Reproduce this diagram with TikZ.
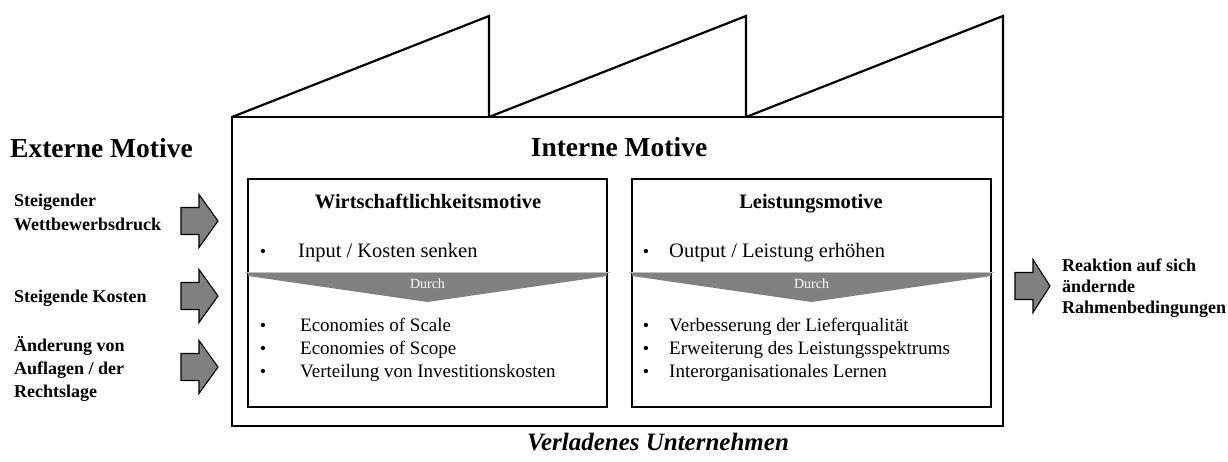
\documentclass[tikz,border=0pt]{standalone}
\usepackage{fontspec}
\setmainfont{Liberation Serif}
\definecolor{arrowgray}{RGB}{128,128,128}
\definecolor{bandgray}{RGB}{128,128,128}
\definecolor{seamgray}{RGB}{190,190,190}
\newcommand{\fsz}[1]{\fontsize{#1}{#1}\selectfont}
% block arrow: shaft start, head start, tip, centre line
\newcommand{\blockarrow}[4]{%
  \draw[blockarrow] (#1,#4-13.5) -- (#2,#4-13.5) -- (#2,#4-26.5) -- (#3,#4)
    -- (#2,#4+26.5) -- (#2,#4+13.5) -- (#1,#4+13.5) -- cycle;}
% grey "Durch" band: left edge, right edge, node name
\newcommand{\durchband}[3]{%
  \fill[bandgray] (#1,272) -- (#2,272) -- (#2,276) -- ({(#1+#2)/2},302) -- (#1,276) -- cycle;
  \draw[seamgray,line width=0.8pt] (#1-3,272) -- (#2+3,272);
  \node[durch] (#3) at ({(#1+#2)/2},288) {Durch};}
\begin{document}
\begin{tikzpicture}[x=1pt,y=-1pt,
  frame/.style={draw=black,line width=2.2pt},
  innerbox/.style={draw=black,line width=1.4pt},
  roof/.style={draw=black,line width=2.2pt,line join=miter},
  blockarrow/.style={fill=arrowgray,draw=black,line width=1.1pt,line join=miter},
  heading/.style={font=\bfseries\fsz{27.5},inner sep=0pt,anchor=base},
  boxtitle/.style={font=\bfseries\fsz{20.5},inner sep=0pt,anchor=base},
  aim/.style={font=\fsz{20.5},inner sep=0pt,anchor=base west},
  means/.style={font=\fsz{19},inner sep=0pt,anchor=base west},
  dot/.style={font=\fsz{18},inner sep=0pt,anchor=base},
  sidelabel/.style={font=\bfseries\fsz{18},inner sep=0pt,anchor=base west,align=left},
  durch/.style={font=\fsz{14},text=white,inner sep=0pt,anchor=base},
]
\useasboundingbox (0,0) rectangle (1228,461);

% sawtooth roof
\draw[roof] (232,117) -- (489,16) -- (489,117);
\draw[roof] (489,117) -- (746,16) -- (746,117);
\draw[roof] (746,117) -- (1003,16) -- (1003,117);

% factory hall
\draw[frame] (232,117) rectangle (1003,426);

% two motive boxes
\draw[innerbox] (248,179) rectangle (607,407);
\draw[innerbox] (632,179) rectangle (991,407);

% headings
\node[heading,anchor=base west] (ext) at (10,157) {Externe Motive};
\node[heading] (int) at (619,156) {Interne Motive};

% left box
\node[boxtitle] (wm) at (428,208) {Wirtschaftlichkeitsmotive};
\node[dot] (wd0) at (263,257) {•};
\node[aim] (wa) at (298,257) {Input / Kosten senken};
\durchband{248}{607}{wdurch}
\node[dot] (wd1) at (263,331) {•};
\node[means] (w1) at (300,331) {Economies of Scale};
\node[dot] (wd2) at (263,354) {•};
\node[means] (w2) at (300,354) {Economies of Scope};
\node[dot] (wd3) at (263,377) {•};
\node[means] (w3) at (300,377) {Verteilung von Investitionskosten};

% right box
\node[boxtitle] (lm) at (811,208) {Leistungsmotive};
\node[dot] (ld0) at (646,257) {•};
\node[aim] (la) at (669,257) {Output / Leistung erhöhen};
\durchband{632}{991}{ldurch}
\node[dot] (ld1) at (646,331) {•};
\node[means] (l1) at (669,331) {Verbesserung der Lieferqualität};
\node[dot] (ld2) at (646,354) {•};
\node[means] (l2) at (669,354) {Erweiterung des Leistungsspektrums};
\node[dot] (ld3) at (646,377) {•};
\node[means] (l3) at (669,377) {Interorganisationales Lernen};

% external drivers
\node[sidelabel] (e1a) at (14,206) {Steigender};
\node[sidelabel] (e1b) at (14,230) {Wettbewerbsdruck};
\node[sidelabel] (e2) at (14,302) {Steigende Kosten};
\node[sidelabel] (e3a) at (14,351) {Änderung von};
\node[sidelabel] (e3b) at (14,374) {Auflagen / der};
\node[sidelabel] (e3c) at (14,397) {Rechtslage};
\blockarrow{181}{199}{218}{221}
\blockarrow{181}{199}{218}{296}
\blockarrow{181}{199}{218}{367}

% reaction
\blockarrow{1015}{1033}{1050}{286}
\node[sidelabel] (r1) at (1062,271) {Reaktion auf sich};
\node[sidelabel] (r2) at (1062,292) {ändernde};
\node[sidelabel] (r3) at (1062,313) {Rahmenbedingungen};

% caption
\node[font=\bfseries\itshape\fsz{25},inner sep=0pt,anchor=base] (cap) at (658,450) {Verladenes Unternehmen};
\end{tikzpicture}
\end{document}
